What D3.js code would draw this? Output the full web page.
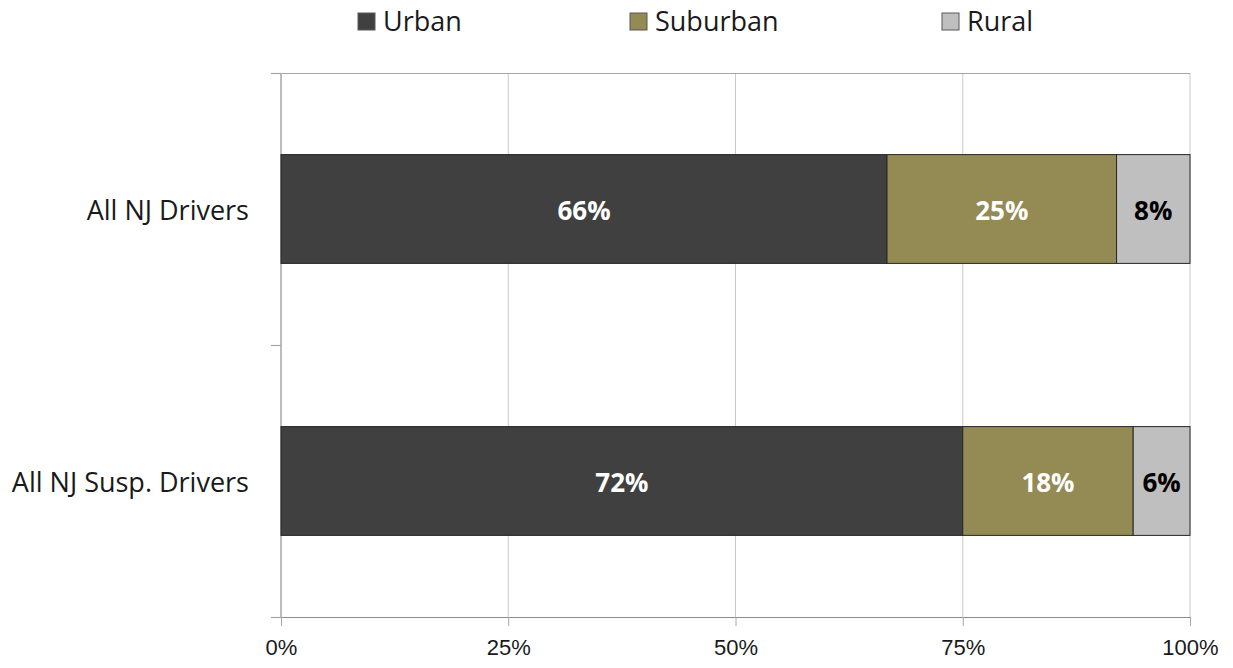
<!DOCTYPE html>
<html>
<head>
<meta charset="utf-8">
<script src="https://cdn.jsdelivr.net/npm/d3@7"></script>
<style>
  html, body { margin: 0; padding: 0; background: #fff; }
  svg { display: block; font-family: "Open Sans", "Noto Sans", sans-serif; }
</style>
</head>
<body>
<svg id="chart" width="1233" height="668"></svg>
<script>
// Share of drivers by area type
const categories = ["All NJ Drivers", "All NJ Susp. Drivers"];
const seriesNames = ["Urban", "Suburban", "Rural"];
const urban = [66, 72];
const suburban = [25, 18];
const rural = [8, 6];
const tickValues = [0, 0.25, 0.5, 0.75, 1];
const tickLabels = ["0%", "25%", "50%", "75%", "100%"];

const colors = { Urban: "#404040", Suburban: "#948a54", Rural: "#bfbfbf" };
const labelColors = { Urban: "#ffffff", Suburban: "#ffffff", Rural: "#000000" };

const rows = categories.map((c, i) => ({
  category: c, Urban: urban[i], Suburban: suburban[i], Rural: rural[i]
}));

const svg = d3.select("#chart");
const plot = { left: 281, right: 1190, top: 73, bottom: 617 };

const x = d3.scaleLinear().domain([0, 1]).range([plot.left, plot.right]);
const y = d3.scaleBand().domain(categories)
  .range([plot.top, plot.bottom])
  .paddingInner(0.6).paddingOuter(0.3);
const yOuter = d3.scaleBand().domain(categories).range([plot.top, plot.bottom]);

// 100% stacked layout
const stacked = d3.stack().keys(seriesNames).offset(d3.stackOffsetExpand)(rows);

// vertical gridlines
svg.append("g").selectAll("line")
  .data(tickValues.slice(1))
  .join("line")
  .attr("x1", d => x(d)).attr("x2", d => x(d))
  .attr("y1", plot.top).attr("y2", plot.bottom)
  .attr("stroke", "#c9c9c9").attr("stroke-width", 1);

// top border line
svg.append("line")
  .attr("x1", plot.left - 10).attr("x2", plot.right)
  .attr("y1", plot.top + 0.5).attr("y2", plot.top + 0.5)
  .attr("stroke", "#a6a6a6").attr("stroke-width", 1.2);

// x axis
const xAxis = d3.axisBottom(x).tickValues(tickValues)
  .tickFormat((d, i) => tickLabels[i]).tickSize(9).tickSizeOuter(0).tickPadding(13);
const gx = svg.append("g").attr("transform", `translate(0,${plot.bottom})`).call(xAxis);
gx.select(".domain").attr("stroke", "#8c8c8c").attr("d", `M${plot.left - 10},0.5H${plot.right}`);
gx.selectAll(".tick line").attr("stroke", "#a6a6a6");
gx.selectAll(".tick text").attr("font-size", 22).attr("fill", "#1a1a1a");

// y axis line and boundary ticks
svg.append("line")
  .attr("x1", plot.left).attr("x2", plot.left)
  .attr("y1", plot.top).attr("y2", plot.bottom)
  .attr("stroke", "#bdbdbd").attr("stroke-width", 2);
const boundaries = [plot.top, ...categories.map(c => yOuter(c) + yOuter.bandwidth())];
svg.append("g").selectAll("line")
  .data(boundaries).join("line")
  .attr("x1", plot.left - 10).attr("x2", plot.left)
  .attr("y1", d => d + 0.5).attr("y2", d => d + 0.5)
  .attr("stroke", "#a6a6a6").attr("stroke-width", 1.2);

// category labels
svg.append("g").selectAll("text")
  .data(categories).join("text")
  .attr("x", 249)
  .attr("y", d => y(d) + y.bandwidth() / 2 + 2)
  .attr("dy", "0.35em")
  .attr("text-anchor", "end")
  .attr("font-size", 27)
  .attr("fill", "#1a1a1a")
  .text(d => d);

// bars
const layers = svg.append("g").selectAll("g")
  .data(stacked).join("g")
  .attr("fill", d => colors[d.key]);

layers.selectAll("rect")
  .data(d => d.map(v => Object.assign(v, { key: d.key })))
  .join("rect")
  .attr("x", d => x(d[0]))
  .attr("y", d => y(d.data.category))
  .attr("width", d => x(d[1]) - x(d[0]))
  .attr("height", y.bandwidth())
  .attr("stroke", "#262626")
  .attr("stroke-width", 1);

// value labels
layers.selectAll("text")
  .data(d => d)
  .join("text")
  .attr("x", d => (x(d[0]) + x(d[1])) / 2)
  .attr("y", d => y(d.data.category) + y.bandwidth() / 2 + 2)
  .attr("dy", "0.35em")
  .attr("text-anchor", "middle")
  .attr("font-size", 26)
  .attr("font-weight", "bold")
  .attr("fill", d => labelColors[d.key])
  .text(d => d.data[d.key] + "%");

// legend
const legendX = [358, 630, 942];
const legend = svg.append("g").selectAll("g")
  .data(seriesNames).join("g")
  .attr("transform", (d, i) => `translate(${legendX[i]},13)`);
legend.append("rect")
  .attr("width", 17).attr("height", 17)
  .attr("fill", d => colors[d])
  .attr("stroke", "#595959").attr("stroke-width", 1);
legend.append("text")
  .attr("x", 25).attr("y", 9).attr("dy", "0.35em")
  .attr("font-size", 27)
  .attr("fill", "#1a1a1a")
  .text(d => d);
</script>
</body>
</html>
